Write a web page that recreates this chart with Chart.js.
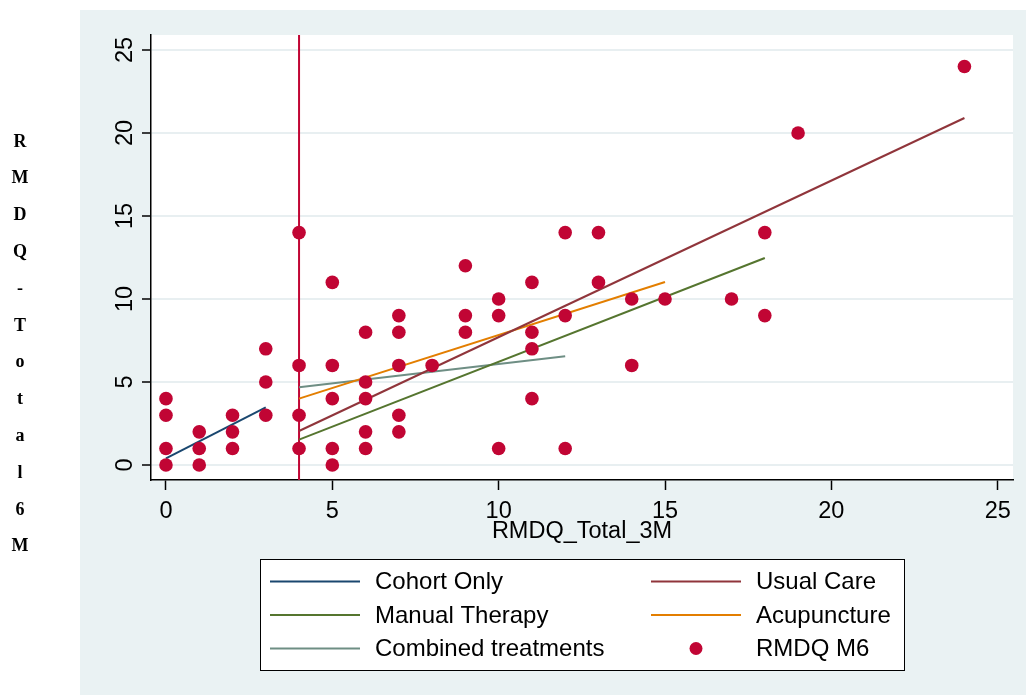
<!DOCTYPE html>
<html>
<head>
<meta charset="utf-8">
<script src="https://cdn.jsdelivr.net/npm/chart.js@4.4.1/dist/chart.umd.min.js"></script>
<style>
  body { margin: 0; background: #fff; }
  #wrap { width: 1026px; height: 695px; }
</style>
</head>
<body>
<div id="wrap"><canvas id="plot" width="1026" height="695"></canvas></div>
<script>
// RMDQ at 3 months (x) vs 6 months (y)
const rmdq3m = [0,0,0,0, 1,1,1, 2,2,2, 3,3,3, 4,4,4,4, 5,5,5,5,5, 6,6,6,6,6, 7,7,7,7,7,
                8, 9,9,9, 10,10,10, 11,11,11,11, 12,12,12, 13,13, 14,14, 15, 17, 18,18, 19, 24];
const rmdq6m = [0,1,3,4, 0,1,2, 1,2,3, 3,5,7, 1,3,6,14, 0,1,4,6,11, 1,2,4,5,8, 2,3,6,8,9,
                6, 8,9,12, 1,9,10, 4,7,8,11, 1,9,14, 11,14, 6,10, 10, 10, 9,14, 20, 24];

// linear fits per treatment group (start / end)
const fitLabels = ['Cohort Only', 'Usual Care', 'Manual Therapy', 'Acupuncture', 'Combined treatments'];
const fitX0 = [0, 4, 4, 4, 4];
const fitX1 = [3, 24, 18, 15, 12];
const fitY0 = [0.4, 2.05, 1.53, 4.0, 4.68];
const fitY1 = [3.48, 20.9, 12.47, 11.02, 6.55];
const fitColors = ['#1a476f', '#90353b', '#55752f', '#e37e00', '#6e8e84'];

const xTicks = [0, 5, 10, 15, 20, 25];
const yTicks = [0, 5, 10, 15, 20, 25];
const cutoff = 4;
const dotColor = '#c10534';
const yTitle = 'RMDQ-Total6M';

const sans = '"Liberation Sans", Arial, sans-serif';

const datasets = [{
    type: 'scatter',
    label: 'RMDQ M6',
    data: rmdq3m.map((x, i) => ({ x: x, y: rmdq6m[i] })),
    backgroundColor: dotColor,
    borderColor: dotColor,
    borderWidth: 0,
    pointRadius: 6.8,
    order: 0
}];
fitLabels.forEach((lab, i) => {
    datasets.push({
        type: 'line',
        label: lab,
        data: [{ x: fitX0[i], y: fitY0[i] }, { x: fitX1[i], y: fitY1[i] }],
        borderColor: fitColors[i],
        backgroundColor: fitColors[i],
        borderWidth: 2,
        pointRadius: 0,
        fill: false,
        order: 1
    });
});

const decor = {
    id: 'decor',
    beforeDraw(chart) {
        const c = chart.ctx, a = chart.chartArea;
        c.save();
        c.fillStyle = '#fff';
        c.fillRect(0, 0, chart.width, chart.height);
        c.fillStyle = '#eaf2f3';
        c.fillRect(80, 10, chart.width - 80, chart.height - 10);
        c.fillStyle = '#fff';
        c.fillRect(a.left, a.top, a.right - a.left, a.bottom - a.top);
        c.restore();
    },
    beforeDatasetsDraw(chart) {
        const c = chart.ctx, a = chart.chartArea;
        const px = chart.scales.x.getPixelForValue(cutoff);
        c.save();
        c.strokeStyle = dotColor;
        c.lineWidth = 2;
        c.beginPath();
        c.moveTo(px, a.top);
        c.lineTo(px, a.bottom);
        c.stroke();
        c.restore();
    },
    afterDraw(chart) {
        const c = chart.ctx;
        const ys = chart.scales.y;
        c.save();
        // rotated y tick labels
        c.fillStyle = '#000';
        c.font = '23.5px ' + sans;
        c.textAlign = 'center';
        c.textBaseline = 'alphabetic';
        yTicks.forEach(v => {
            c.save();
            c.translate(131.5, ys.getPixelForValue(v));
            c.rotate(-Math.PI / 2);
            c.fillText(String(v), 0, 0);
            c.restore();
        });
        // x title
        c.textBaseline = 'middle';
        c.fillText('RMDQ_Total_3M', (chart.chartArea.left + chart.chartArea.right) / 2, 532);
        // stacked y title
        c.font = 'bold 18px "Liberation Serif", "Times New Roman", serif';
        yTitle.split('').forEach((ch, i) => c.fillText(ch, 20, 142 + i * 36.8));

        // legend, two columns, row-major
        c.fillStyle = '#fff';
        c.fillRect(260, 559, 644, 111);
        c.strokeStyle = '#000';
        c.lineWidth = 1;
        c.strokeRect(260.5, 559.5, 644, 111);
        const items = chart.data.datasets.slice(1).concat(chart.data.datasets[0]);
        c.font = '24px ' + sans;
        c.textAlign = 'left';
        items.forEach((ds, i) => {
            const col = i % 2, row = Math.floor(i / 2);
            const y = 581.5 + row * 33.5;
            const lx = col ? 651 : 270;
            const tx = col ? 756 : 375;
            if (ds.type === 'scatter') {
                c.fillStyle = ds.backgroundColor;
                c.beginPath();
                c.arc(lx + 45, y, 6.5, 0, Math.PI * 2);
                c.fill();
            } else {
                c.strokeStyle = ds.borderColor;
                c.lineWidth = 2;
                c.beginPath();
                c.moveTo(lx, y);
                c.lineTo(lx + 90, y);
                c.stroke();
            }
            c.fillStyle = '#000';
            c.fillText(ds.label, tx, y + 1);
        });
        c.restore();
    }
};

new Chart(document.getElementById('plot'), {
    type: 'scatter',
    data: { datasets: datasets },
    options: {
        responsive: false,
        animation: false,
        events: [],
        layout: { padding: { left: 0, top: 35, right: 13, bottom: 0 } },
        plugins: { legend: { display: false }, tooltip: { enabled: false } },
        scales: {
            x: {
                type: 'linear',
                min: -0.45,
                max: 25.46,
                afterBuildTicks: s => { s.ticks = xTicks.map(v => ({ value: v })); },
                afterFit: s => { s.height = 215; },
                ticks: { color: '#000', font: { family: sans, size: 23.5 }, padding: 7, maxRotation: 0 },
                grid: { drawOnChartArea: false, tickLength: 10, tickColor: '#000', tickWidth: 1.5 },
                border: { color: '#000', width: 1.5 }
            },
            y: {
                type: 'linear',
                min: -0.9,
                max: 25.9,
                afterBuildTicks: s => { s.ticks = yTicks.map(v => ({ value: v })); },
                afterFit: s => { s.width = 151; },
                ticks: { color: 'rgba(0,0,0,0)', font: { family: sans, size: 23.5 } },
                grid: { color: '#e8eff1', lineWidth: 2, tickLength: 9, tickColor: '#000', tickWidth: 1.5 },
                border: { color: '#000', width: 1.5 }
            }
        }
    },
    plugins: [decor]
});
</script>
</body>
</html>
